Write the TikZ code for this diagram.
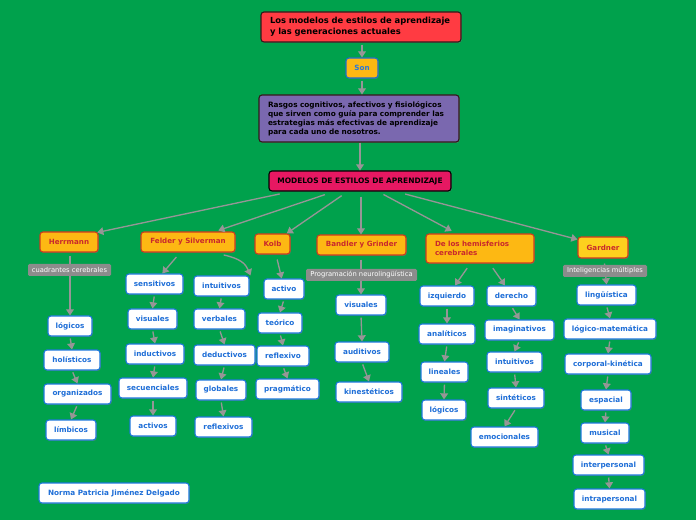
\documentclass[tikz,border=0pt]{standalone}
\usepackage{fontspec}
\setmainfont{DejaVu Sans}
\usetikzlibrary{arrows.meta,shadows,calc}
\definecolor{bg}{RGB}{0,161,76}
\definecolor{titler}{RGB}{255,59,66}
\definecolor{darkb}{RGB}{50,25,25}
\definecolor{purp}{RGB}{122,104,175}
\definecolor{modr}{RGB}{230,24,98}
\definecolor{orng}{RGB}{253,184,19}
\definecolor{orngb}{RGB}{205,60,30}
\definecolor{orngt}{RGB}{200,40,45}
\definecolor{gard}{RGB}{253,208,30}
\definecolor{sonb}{RGB}{30,110,200}
\definecolor{sont}{RGB}{40,120,220}
\definecolor{leafb}{RGB}{30,120,220}
\definecolor{leaft}{RGB}{30,110,215}
\definecolor{tagg}{RGB}{140,140,140}
\definecolor{arr}{RGB}{150,150,150}
\begin{document}
\begin{tikzpicture}[x=0.75pt,y=-0.75pt,
  wh/.style 2 args={minimum width=#1*0.75pt, minimum height=#2*0.75pt},
  box/.style={rounded corners=2.2pt, inner sep=0pt, align=center, line width=0.8pt,
    drop shadow={shadow xshift=0.6pt,shadow yshift=-0.7pt,opacity=0.45}},
  leaf/.style={box, fill=white, draw=leafb, text=leaft, font=\bfseries\fontsize{5.45}{6.5}\selectfont},
  model/.style={box, fill=orng, draw=orngb, text=orngt, font=\bfseries\fontsize{5.35}{6.8}\selectfont},
  tag/.style={fill=tagg, text=white, inner sep=0pt, rounded corners=1pt, font=\fontsize{5.05}{6}\selectfont},
  conn/.style={draw=arr, line width=1pt, -{Triangle[width=5.8pt,length=4.6pt]}, shorten <=1.5pt}
]
\fill[bg] (0,0) rectangle (696,520);
\useasboundingbox (0,0) rectangle (696,520);

% top chain
\node[box, fill=titler, draw=darkb, wh={200}{30}, text width=182*0.75pt, align=left,
  font=\bfseries\fontsize{6.3}{8}\selectfont] (title) at (361,27)
  {Los modelos de estilos de aprendizaje\\y las generaciones actuales};
\node[box, fill=orng, draw=sonb, text=sont, wh={32}{20},
  font=\bfseries\fontsize{5.4}{6.5}\selectfont] (son) at (362,68) {Son};
\node[box, fill=purp, draw=darkb, wh={200}{47}, text width=182*0.75pt, align=left,
  font=\bfseries\fontsize{5.5}{6.8}\selectfont] (rasgos) at (359,118.5)
  {Rasgos cognitivos, afectivos y fisiológicos\\que sirven como guía para comprender las\\estrategias más efectivas de aprendizaje\\para cada uno de nosotros.};
\node[box, fill=modr, draw=black, wh={182}{20},
  font=\bfseries\fontsize{5.6}{6.8}\selectfont] (modelos) at (360,181)
  {MODELOS DE ESTILOS DE APRENDIZAJE};

% level 2
\node[model, wh={58}{20}] (herrmann) at (69,242) {Herrmann};
\node[model, wh={94}{20}] (felder) at (188,242) {Felder y Silverman};
\node[model, wh={35}{20}] (kolb) at (272.5,244) {Kolb};
\node[model, wh={89}{20}] (bandler) at (361.5,245) {Bandler y Grinder};
\node[model, wh={108}{29}, text width=90*0.75pt, align=left] (hemis) at (480,248.5)
  {De los hemisferios\\cerebrales};
\node[model, fill=gard, wh={50}{21}] (gardner) at (603,247.5) {Gardner};

% Herrmann column
\node[leaf, wh={44}{20}] (logA) at (70,326) {lógicos};
\node[leaf, wh={56}{20}] (holis) at (72,360) {holísticos};
\node[leaf, wh={67}{20}] (organ) at (77.5,394) {organizados};
\node[leaf, wh={50}{20}] (limb) at (71,430) {límbicos};

% Felder columns
\node[leaf, wh={57}{20}] (sens) at (154.5,284) {sensitivos};
\node[leaf, wh={49}{20}] (visF) at (152.5,319) {visuales};
\node[leaf, wh={58}{20}] (induc) at (155,354) {inductivos};
\node[leaf, wh={68}{20}] (secu) at (153,388) {secuenciales};
\node[leaf, wh={46}{20}] (activos) at (153,426) {activos};
\node[leaf, wh={55}{20}] (intF) at (221.5,286) {intuitivos};
\node[leaf, wh={51}{20}] (verb) at (219.5,319) {verbales};
\node[leaf, wh={61}{20}] (deduc) at (224.5,355) {deductivos};
\node[leaf, wh={50}{20}] (glob) at (221,390) {globales};
\node[leaf, wh={57}{20}] (reflF) at (223.5,427) {reflexivos};

% Kolb column
\node[leaf, wh={40}{20}] (activo) at (284,289) {activo};
\node[leaf, wh={44}{20}] (teor) at (280,323) {teórico};
\node[leaf, wh={52}{20}] (reflK) at (283,356) {reflexivo};
\node[leaf, wh={63}{20}] (prag) at (287.5,389) {pragmático};

% Bandler column
\node[leaf, wh={50}{20}] (visB) at (361,305) {visuales};
\node[leaf, wh={54}{20}] (audi) at (362,352) {auditivos};
\node[leaf, wh={66}{20}] (kine) at (369,392) {kinestéticos};

% Hemisferios columns
\node[leaf, wh={54}{20}] (izq) at (447,296) {izquierdo};
\node[leaf, wh={56}{20}] (anal) at (447,334) {analíticos};
\node[leaf, wh={47}{20}] (line) at (444.5,372) {lineales};
\node[leaf, wh={44}{20}] (logB) at (444,410) {lógicos};
\node[leaf, wh={49}{20}] (der) at (511.5,296) {derecho};
\node[leaf, wh={69}{20}] (imag) at (519.5,330) {imaginativos};
\node[leaf, wh={55}{20}] (intH) at (514.5,362) {intuitivos};
\node[leaf, wh={56}{20}] (sint) at (516,398) {sintéticos};
\node[leaf, wh={67}{20}] (emoc) at (504.5,437) {emocionales};

% Gardner column
\node[leaf, wh={59}{20}] (ling) at (606.5,295) {lingüística};
\node[leaf, wh={92}{20}] (logm) at (610,329) {lógico-matemática};
\node[leaf, wh={86}{20}] (corp) at (608,364) {corporal-kinética};
\node[leaf, wh={50}{20}] (espa) at (606,400) {espacial};
\node[leaf, wh={48}{20}] (musi) at (605,433) {musical};
\node[leaf, wh={71}{20}] (inter) at (608.5,465) {interpersonal};
\node[leaf, wh={71}{20}] (intra) at (609.5,499) {intrapersonal};

\node[leaf, wh={150}{20}] (norma) at (114,493) {Norma Patricia Jiménez Delgado};

% connectors: top chain
\draw[conn] (title.south -| son.north) -- (son.north);
\draw[conn] (son.south) -- (son.south |- rasgos.north);
\draw[conn, shorten <=0pt] (rasgos.south -| modelos.north) -- (modelos.north);

% modelos to level 2
\draw[conn] ($(modelos.south)+(-78.3,2)$) -- ($(herrmann.north east)+(-1.3,1)$);
\draw[conn] ($(modelos.south)+(-33.3,2.5)$) -- ($(felder.north)+(30.3,-1)$);
\draw[conn] ($(modelos.south)+(-16.7,3)$) -- ($(kolb.north)+(14.2,0)$);
\draw[conn] ($(modelos.south)+(1,3)$) -- ($(bandler.north)+(-0.5,0)$);
\draw[conn] ($(modelos.south)+(21.7,2)$) -- ($(hemis.north)+(-28.3,-2.5)$);
\draw[conn] ($(modelos.south)+(43.3,2)$) -- ($(gardner.north west)+(0,3)$);

% level 2 to first leaves
\draw[conn] ($(herrmann.south)+(1,1.5)$) -- (logA.north);
\draw[conn] ($(felder.south)+(-10.3,3)$) -- ($(sens.north)+(7.8,0)$);
\draw[conn] ($(felder.south)+(33.7,2)$) .. controls ($(felder.south)+(52,6)$) and ($(intF.north east)+(-4,-12)$) .. ($(intF.north east)+(1,0)$);
\draw[conn] ($(kolb.south)+(4.2,3)$) -- ($(activo.north)+(-2.3,0)$);
\draw[conn] ($(bandler.south)+(-0.5,2)$) -- (visB.north);
\draw[conn] ($(hemis.south)+(-11.7,3)$) -- ($(izq.north)+(8,0)$);
\draw[conn] ($(hemis.south)+(11.7,3)$) -- ($(der.north)+(-6.5,0)$);
\draw[conn] ($(gardner.south)+(1.3,3)$) -- (ling.north);

% chains
\foreach \a/\b in {logA/holis, holis/organ, organ/limb,
  sens/visF, visF/induc, induc/secu, secu/activos,
  intF/verb, verb/deduc, deduc/glob, glob/reflF,
  activo/teor, teor/reflK, reflK/prag,
  visB/audi, audi/kine,
  izq/anal, anal/line, line/logB,
  der/imag, imag/intH, intH/sint, sint/emoc,
  ling/logm, logm/corp, corp/espa, espa/musi, musi/inter, inter/intra}
  \draw[conn] (\a.south) -- (\b.north);

% tags on top of lines
\node[tag, wh={83}{12}] (tagH) at (69.5,270) {cuadrantes cerebrales};
\node[tag, wh={111}{12}] (tagB) at (361.5,275) {Programación neurolingüística};
\node[tag, wh={84}{12}] (tagG) at (605,271) {Inteligencias múltiples};
\end{tikzpicture}
\end{document}
